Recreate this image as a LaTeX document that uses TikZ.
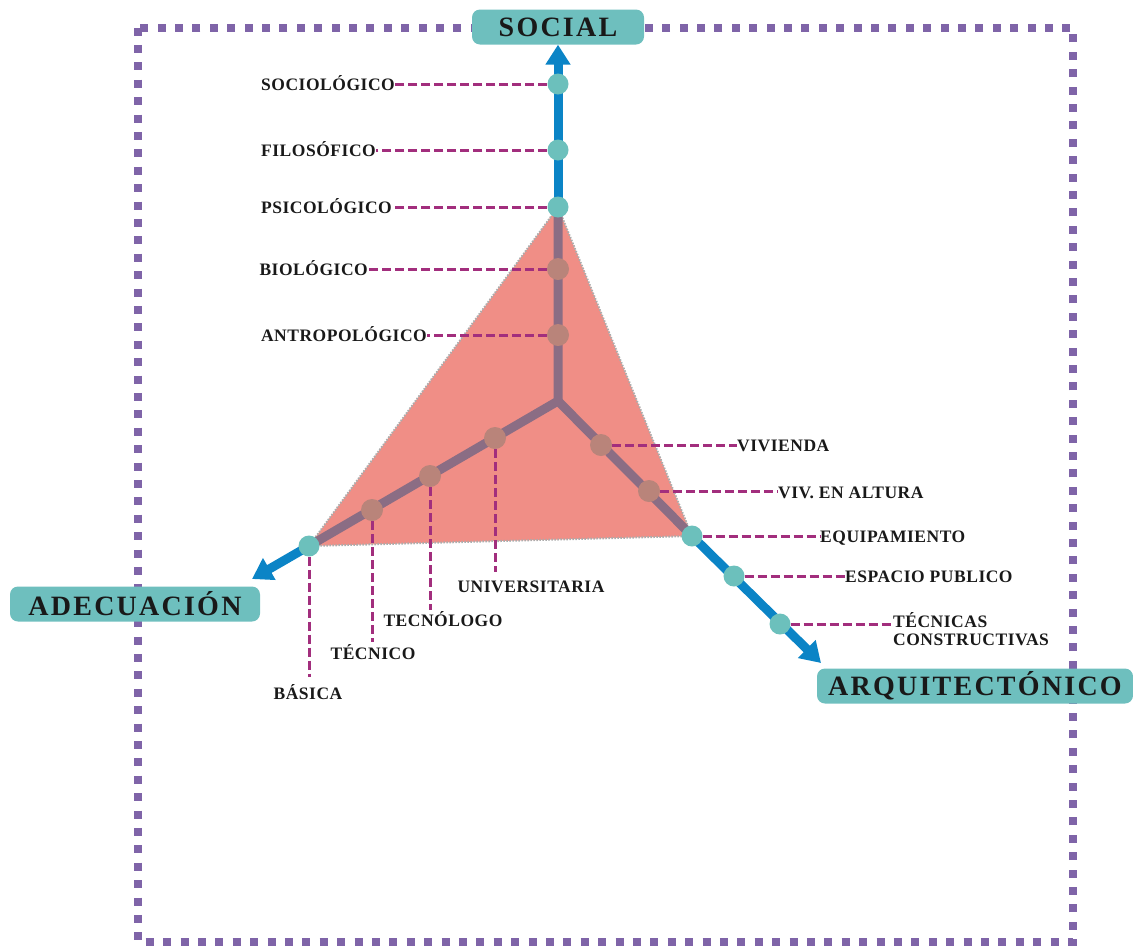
\documentclass[tikz,border=0pt]{standalone}
\usepackage{fontspec}
\setmainfont{Liberation Serif}
\newfontfamily\labelfont{Liberation Serif}[LetterSpace=3]
\newfontfamily\axisfont{Liberation Serif}[LetterSpace=8]
\usetikzlibrary{arrows.meta, backgrounds}

\definecolor{framepurple}{HTML}{7F64A8}
\definecolor{tealbox}{HTML}{6EBFBE}
\definecolor{axisblue}{HTML}{0B84C6}
\definecolor{axismauve}{HTML}{8B6D84}
\definecolor{dotteal}{HTML}{6CC0BC}
\definecolor{dotbrown}{HTML}{B9847A}
\definecolor{salmon}{HTML}{F08E86}
\definecolor{leader}{HTML}{A22E7D}

\begin{document}
\begin{tikzpicture}[x=1pt, y=-1pt,
  axislabel/.style={fill=tealbox, rounded corners=8pt, minimum height=35pt, inner sep=0pt, font=\axisfont\bfseries\fontsize{28}{30}\selectfont, text=black!90},
  small/.style={font=\labelfont\bfseries\fontsize{17.5}{18}\selectfont, text=black!90, inner sep=0pt},
  tealdot/.style={circle, fill=dotteal, minimum size=21pt, inner sep=0pt},
  browndot/.style={circle, fill=dotbrown, minimum size=22pt, inner sep=0pt},
  leaderline/.style={draw=leader, line width=3pt, dash pattern=on 9pt off 4pt},
  blueaxis/.style={draw=axisblue, line width=9pt, -{Triangle[width=24pt,length=20pt]}},
  mauveaxis/.style={draw=axismauve, line width=9pt, line join=round}]
  \useasboundingbox (0,0) rectangle (1133,946);

  % Axis labels
  \node[axislabel, minimum width=172pt] (social) at (558,27) {SOCIAL};
  \node[axislabel, minimum width=250pt] (adecuacion) at (135,604) {ADECUACIÓN};
  \node[axislabel, minimum width=316pt] (arquitect) at (975,686) {ARQUITECTÓNICO};
  \coordinate (hub) at (558,401);
  \coordinate (adtip) at (252,579);
  \coordinate (artip) at (821,663);

  % Dots, social axis
  \node[tealdot] (socio) at (558,84) {};
  \node[tealdot] (filo) at (558,150) {};
  \node[tealdot] (psico) at (558,207) {};
  \node[browndot] (bio) at (558,269) {};
  \node[browndot] (antro) at (558,335) {};
  % Dots, adecuacion axis
  \node[browndot] (univ) at (495,438) {};
  \node[browndot] (tecno) at (430,476) {};
  \node[browndot] (tecni) at (372,510) {};
  \node[tealdot] (basica) at (309,546) {};
  % Dots, arquitectonico axis
  \node[browndot] (vivi) at (601,445) {};
  \node[browndot] (altura) at (649,491) {};
  \node[tealdot] (equip) at (692,536) {};
  \node[tealdot] (espacio) at (734,576) {};
  \node[tealdot] (tecnicas) at (780,624) {};

  % Labels
  \node[small, anchor=base east] (sociolbl) at (395,90) {SOCIOLÓGICO};
  \node[small, anchor=base east] (filolbl) at (376,156) {FILOSÓFICO};
  \node[small, anchor=base east] (psicolbl) at (392,213) {PSICOLÓGICO};
  \node[small, anchor=base east] (biolbl) at (368,275) {BIOLÓGICO};
  \node[small, anchor=base east] (antrolbl) at (427,341) {ANTROPOLÓGICO};
  \node[small, anchor=base] (basicalbl) at (308,699) {BÁSICA};
  \node[small, anchor=base] (tecnilbl) at (373,659) {TÉCNICO};
  \node[small, anchor=base] (tecnolbl) at (443,626) {TECNÓLOGO};
  \node[small, anchor=base] (univlbl) at (531,592) {UNIVERSITARIA};
  \node[small, anchor=base west] (vivilbl) at (737,451) {VIVIENDA};
  \node[small, anchor=base west] (alturalbl) at (778,498) {VIV. EN ALTURA};
  \node[small, anchor=base west] (equiplbl) at (820,542) {EQUIPAMIENTO};
  \node[small, anchor=base west] (espaciolbl) at (845,582) {ESPACIO PUBLICO};
  \node[small, anchor=north west, align=left] (tecnicaslbl) at (893,612) {TÉCNICAS\\CONSTRUCTIVAS};

  \begin{scope}[on background layer]
    % Frame
    \draw[framepurple, line width=8pt, dash pattern=on 8pt off 9.4pt] (138,27.5) rectangle (1073,942);
    % Triangle
    \filldraw[fill=salmon, draw=gray!65, line width=2pt, dash pattern=on 1.5pt off 1.5pt] (psico.center) -- (basica.center) -- (equip.center) -- cycle;
    % Axes
    \draw[mauveaxis] (psico.center) -- (hub) -- (basica.center);
    \draw[mauveaxis] (hub) -- (equip.center);
    \draw[blueaxis] (psico.center) -- (social);
    \draw[blueaxis] (basica.center) -- (adtip);
    \draw[blueaxis] (equip.center) -- (artip);
    % Leaders
    \draw[leaderline] (socio) -- (socio -| sociolbl.east);
    \draw[leaderline] (filo) -- (filo -| filolbl.east);
    \draw[leaderline] (psico) -- (psico -| psicolbl.east);
    \draw[leaderline] (bio) -- (bio -| biolbl.east);
    \draw[leaderline] (antro) -- (antro -| antrolbl.east);
    \draw[leaderline] (basica) -- (basica |- 0,677);
    \draw[leaderline] (tecni) -- (tecni |- 0,642);
    \draw[leaderline] (tecno) -- (tecno |- 0,610);
    \draw[leaderline] (univ) -- (univ |- 0,572);
    \draw[leaderline] (vivi) -- (vivi -| vivilbl.west);
    \draw[leaderline] (altura) -- (altura -| alturalbl.west);
    \draw[leaderline] (equip) -- (equip -| equiplbl.west);
    \draw[leaderline] (espacio) -- (espacio -| espaciolbl.west);
    \draw[leaderline] (tecnicas) -- (tecnicas -| tecnicaslbl.west);
  \end{scope}
\end{tikzpicture}
\end{document}
